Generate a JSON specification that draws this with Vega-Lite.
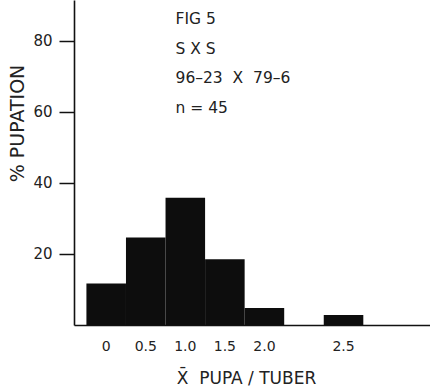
{
  "$schema": "https://vega.github.io/schema/vega-lite/v6.json",
  "width": 356,
  "height": 325,
  "autosize": {"type": "none"},
  "padding": {"left": 74, "top": 0, "right": 0, "bottom": 63},
  "background": "white",
  "config": {"view": {"stroke": null}, "font": "DejaVu Sans"},
  "layer": [
    {
      "data": {
        "values": [
          {"class": "0", "pupation": 11.7},
          {"class": "0.5", "pupation": 24.6},
          {"class": "1.0", "pupation": 35.8},
          {"class": "1.5", "pupation": 18.5},
          {"class": "2.0", "pupation": 4.8},
          {"class": "2.5", "pupation": 2.8}
        ]
      },
      "mark": {"type": "bar", "color": "#0d0d0d"},
      "encoding": {
        "x": {
          "field": "class",
          "type": "ordinal",
          "scale": {
            "domain": ["0", "0.5", "1.0", "1.5", "2.0", "gap", "2.5"],
            "paddingInner": 0,
            "paddingOuter": 1.03,
            "align": 0.157
          },
          "axis": {
            "title": "X̄\u00a0\u00a0PUPA\u00a0/\u00a0TUBER",
            "labelExpr": "datum.value == 'gap' ? '' : datum.value",
            "labelAngle": 0,
            "ticks": false,
            "tickSize": 0,
            "labelPadding": 14,
            "labelFontSize": 14,
            "labelColor": "#222",
            "domainColor": "#111",
            "domainWidth": 1.6,
            "grid": false,
            "titleFontSize": 17,
            "titleFontWeight": "normal",
            "titleColor": "#222",
            "titleX": 172,
            "titleY": 53,
            "titleBaseline": "middle"
          }
        },
        "y": {
          "field": "pupation",
          "type": "quantitative",
          "scale": {"domain": [0, 91.5], "nice": false},
          "axis": {
            "values": [20, 40, 60, 80],
            "title": "% PUPATION",
            "grid": false,
            "domainColor": "#111",
            "domainWidth": 1.6,
            "tickColor": "#111",
            "tickWidth": 1.5,
            "tickSize": 15,
            "labelFontSize": 15,
            "labelColor": "#222",
            "labelPadding": 7,
            "titleFontSize": 19,
            "titleFontWeight": "normal",
            "titleColor": "#222",
            "titleAngle": -90,
            "titleX": -57,
            "titleY": 123,
            "titleAlign": "center",
            "titleBaseline": "middle"
          }
        }
      }
    },
    {
      "data": {"values": [{}]},
      "mark": {
        "type": "text",
        "text": ["FIG 5", "S X S", "96–23\u00a0\u00a0X\u00a0\u00a079–6", "n = 45"],
        "align": "left",
        "baseline": "top",
        "fontSize": 15.5,
        "lineHeight": 29.5,
        "dx": 10,
        "color": "#222"
      },
      "encoding": {
        "x": {"datum": "1.0", "type": "ordinal", "bandPosition": 0},
        "y": {"datum": 88, "type": "quantitative"}
      }
    }
  ]
}
